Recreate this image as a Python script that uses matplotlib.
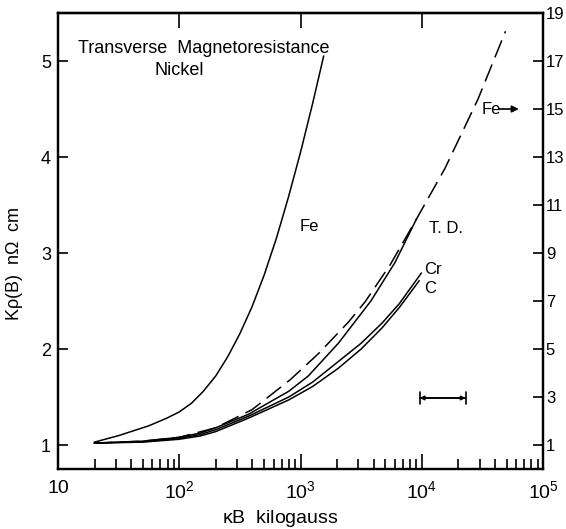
import numpy as np
import matplotlib
matplotlib.use("Agg")
from matplotlib import pyplot as plt

plt.rcParams["font.family"] = ["Liberation Sans", "DejaVu Sans"]
plt.rcParams["mathtext.default"] = "regular"

# curves: kappa*B (kilogauss) vs K rho(B) (n ohm cm)
fe_x = [20, 32, 56, 79, 100, 126, 158, 200, 251, 316, 398, 501, 631, 794, 1000, 1259, 1550]
fe_y = [1.03, 1.10, 1.20, 1.28, 1.345, 1.435, 1.56, 1.72, 1.92, 2.16, 2.44, 2.77, 3.15, 3.58, 4.05, 4.56, 5.05]

dash_x = [20, 50, 100, 200, 400, 822, 1400, 2480, 3400, 5500, 9000, 15500, 29000, 49000]
dash_y = [1.02, 1.04, 1.08, 1.18, 1.37, 1.68, 1.95, 2.28, 2.49, 2.88, 3.35, 3.88, 4.60, 5.31]

td_x = [20, 50, 100, 150, 200, 372, 800, 1160, 2050, 3800, 6000, 9000]
td_y = [1.02, 1.04, 1.08, 1.125, 1.18, 1.32, 1.56, 1.72, 2.06, 2.50, 2.90, 3.35]

cr_x = [20, 50, 100, 150, 200, 372, 800, 1260, 2050, 3160, 4700, 6500, 9900]
cr_y = [1.02, 1.035, 1.07, 1.11, 1.16, 1.30, 1.50, 1.656, 1.87, 2.06, 2.27, 2.47, 2.79]

c_x = [20, 50, 100, 150, 200, 372, 800, 1260, 2050, 3160, 4700, 6500, 9500]
c_y = [1.02, 1.03, 1.06, 1.095, 1.14, 1.28, 1.47, 1.61, 1.80, 2.00, 2.22, 2.43, 2.71]

xticks = [10, 1e2, 1e3, 1e4, 1e5]
xtick_labels = ["10", "10$^2$", "10$^3$", "10$^4$", "10$^5$"]
left_ticks = [1, 2, 3, 4, 5]
right_ticks = [1, 3, 5, 7, 9, 11, 13, 15, 17, 19]

# error bar width (kilogauss) and its height
err_x = [9600, 23000]
err_y = 1.49

fig = plt.figure(figsize=(5.66, 5.29), dpi=100)
ax = fig.add_axes([0.1025, 0.1134, 0.857, 0.862])

lw = 1.1
ax.plot(fe_x, fe_y, color="black", lw=lw)
ax.plot(dash_x, dash_y, color="black", lw=lw, dashes=(12, 5))
ax.plot(td_x, td_y, color="black", lw=lw)
ax.plot(cr_x, cr_y, color="black", lw=lw)
ax.plot(c_x, c_y, color="black", lw=lw)

ax.set_xscale("log")
ax.set_xlim(10, 1e5)
ax.set_ylim(0.75, 5.5)

ax.set_xticks(xticks)
ax.set_xticklabels(xtick_labels, fontsize=14)
ax.set_yticks(left_ticks)
ax.set_yticklabels([str(t) for t in left_ticks], fontsize=13)
ax.tick_params(axis="x", which="major", direction="in", length=11, width=1.2, pad=8)
ax.tick_params(axis="x", which="minor", direction="in", length=7, width=1.2)
ax.tick_params(axis="y", direction="in", length=7, width=1.2, pad=5)
for s in ax.spines.values():
    s.set_linewidth(1.6)

# top axis: major ticks only, pointing inward
top = ax.secondary_xaxis("top")
top.set_xticks([1e2, 1e3, 1e4])
top.set_xticklabels([])
top.tick_params(direction="in", length=11, width=1.2)
top.xaxis.set_minor_locator(matplotlib.ticker.NullLocator())
top.spines["top"].set_linewidth(1.6)

# right axis scale
ax2 = ax.twinx()
ax2.set_ylim(0, 19)
ax2.set_yticks(right_ticks)
ax2.set_yticklabels([str(t) for t in right_ticks], fontsize=12)
ax2.tick_params(axis="y", direction="in", length=7, width=1.2, pad=2)
for s in ax2.spines.values():
    s.set_linewidth(1.6)

ax.set_xlabel(r"$\kappa$B  kilogauss", fontsize=14)
ax.xaxis.set_label_coords(0.457, -0.085)
ax.set_ylabel(r"K$\rho$(B)  n$\Omega$  cm", fontsize=13)
ax.yaxis.set_label_coords(-0.068, 0.45)

ax.text(10 ** 2.2, 5.13, "Transverse  Magnetoresistance", fontsize=13, ha="center", va="center")
ax.text(10 ** 2.0, 4.9, "Nickel", fontsize=13, ha="center", va="center")
ax.text(10 ** 2.99, 3.28, "Fe", fontsize=12, va="center")
ax.text(10 ** 4.06, 3.26, "T. D.", fontsize=12, va="center")
ax.text(10 ** 4.02, 2.83, "Cr", fontsize=12, va="center")
ax.text(10 ** 4.02, 2.63, "C", fontsize=12, va="center")
ax.text(10 ** 4.49, 4.5, "Fe", fontsize=12, va="center")
ax.annotate("", xy=(10 ** 4.80, 4.5), xytext=(10 ** 4.64, 4.5),
            arrowprops=dict(arrowstyle="-|>", color="black", lw=1.2,
                            mutation_scale=10, shrinkA=0, shrinkB=0))

# error bar
ax.annotate("", xy=(err_x[1], err_y), xytext=(err_x[0], err_y),
            arrowprops=dict(arrowstyle="|-|", color="black", lw=1.2,
                            mutation_scale=4, shrinkA=0, shrinkB=0))
ax.annotate("", xy=(err_x[1], err_y), xytext=(err_x[0], err_y),
            arrowprops=dict(arrowstyle="<|-|>", color="black", lw=1.2,
                            mutation_scale=6, shrinkA=0, shrinkB=0))

fig.savefig("out.png", dpi=100)
